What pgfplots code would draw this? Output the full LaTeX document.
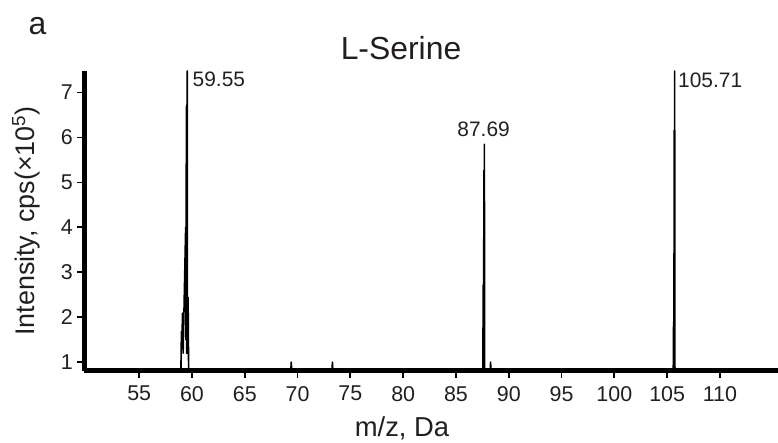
\documentclass[border=0pt]{standalone}
\usepackage{fontspec}
\setmainfont{Liberation Sans}
\usepackage{pgfplots}
\pgfplotsset{compat=1.18}
\definecolor{ink}{RGB}{35,31,32}
\tikzset{trace/.style={black, line width=1.6bp, line join=round}}

\begin{document}
\begin{tikzpicture}
\useasboundingbox (0,0) rectangle (778bp,443bp);

\begin{axis}[
  at={(84.3bp,72.3bp)}, anchor=south west,
  scale only axis, width=693.7bp, height=299.7bp,
  xmin=49.8, xmax=115.5, ymin=0.81, ymax=7.48,
  axis x line*=bottom, axis y line*=left,
  axis line style={line width=4.5bp, black},
  xtick={55,60,...,110}, ytick={1,...,7},
  tick align=outside, major tick length=7bp,
  tick style={line width=1.8bp, black},
  /pgf/number format/assume math mode=true,
  tick label style={font=\fontsize{21.5}{24}\selectfont, text=ink},
  xticklabel style={yshift=-5bp},
  yticklabel style={xshift=-1bp},
  clip=false,
]
% profile traces: each cluster is a chain of sharp sticks
\addplot[trace] coordinates {
  (58.95,0.81) (59.00,1.68) (59.04,1.30) (59.10,2.09) (59.16,1.20)
  (59.40,4.00) (59.43,1.50) (59.47,6.69) (59.50,1.20) (59.53,6.69)
  (59.55,7.48) (59.57,1.20) (59.63,2.44) (59.68,0.81)
};
\addplot[trace] coordinates {(69.36,0.81) (69.40,1.00) (69.44,0.81)};
\addplot[trace] coordinates {(73.26,0.81) (73.30,1.00) (73.34,0.81)};
\addplot[trace] coordinates {
  (87.55,0.81) (87.58,2.72) (87.61,0.90) (87.65,5.27) (87.67,1.00)
  (87.69,5.85) (87.72,0.81)
};
\addplot[trace] coordinates {(88.25,0.81) (88.28,1.00) (88.31,0.81)};
\addplot[trace] coordinates {
  (105.58,0.81) (105.61,1.90) (105.64,0.90) (105.67,6.16) (105.69,1.00)
  (105.71,7.48) (105.74,0.81)
};

\node[anchor=base west, inner sep=0, text=ink, font=\fontsize{21}{24}\selectfont]
  at (axis cs:60.05,7.124) {59.55};
\node[anchor=base, inner sep=0, text=ink, font=\fontsize{21}{24}\selectfont]
  at (axis cs:87.62,6.013) {87.69};
\node[anchor=base west, inner sep=0, text=ink, font=\fontsize{21}{24}\selectfont]
  at (axis cs:106.03,7.11) {105.71};
\end{axis}

\node[anchor=base, inner sep=0, text=ink, font=\fontsize{32}{36}\selectfont]
  at (401bp,383.7bp) {L-Serine};
\node[anchor=base, inner sep=0, text=ink, font=\fontsize{27.5}{30}\selectfont]
  at (402bp,7bp) {m/z, Da};
\node[anchor=base, inner sep=0, rotate=90, text=ink, font=\fontsize{27}{30}\selectfont]
  at (34bp,222bp) {Intensity, cps(×10\textsuperscript{5})};
\node[anchor=base, inner sep=0, text=ink, font=\fontsize{32}{36}\selectfont]
  at (37.5bp,408bp) {a};
\end{tikzpicture}
\end{document}
